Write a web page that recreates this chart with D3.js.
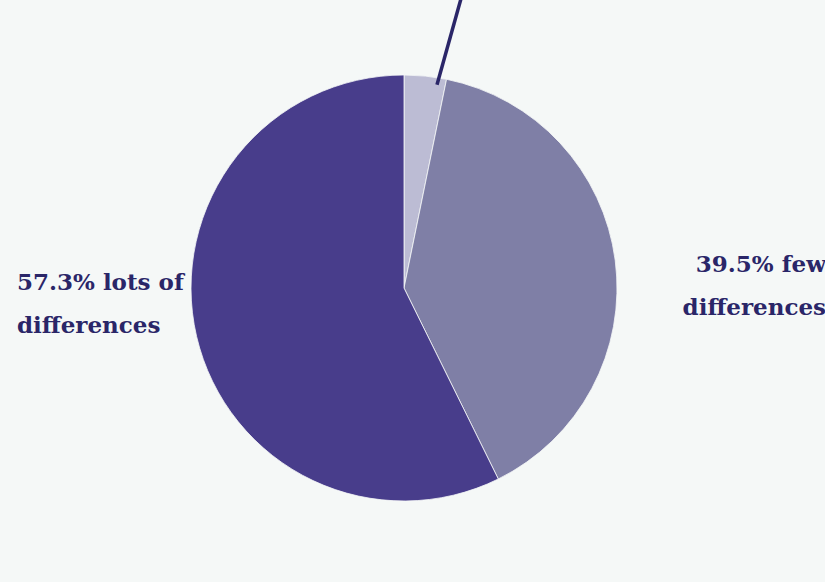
<!DOCTYPE html>
<html>
<head>
<meta charset="utf-8">
<script src="https://cdn.jsdelivr.net/npm/d3@7"></script>
<style>
  html, body { margin: 0; padding: 0; background: #f5f8f7; }
  svg { display: block; }
  .lbl { font-family: "DejaVu Serif", serif; font-weight: bold; font-size: 23px; fill: #2a2668; }
</style>
</head>
<body>
<svg id="chart" width="825" height="582"></svg>
<script>
// slices in clockwise order from 12 o'clock
const categories = ['no differences', 'few differences', 'lots of differences'];
const shares = [3.2, 39.5, 57.3];
const colors = ['#bcbcd4', '#7f7fa6', '#483d8b'];

const width = 825, height = 582;
const cx = 404, cy = 288, radius = 213;

const svg = d3.select('#chart');
const g = svg.append('g').attr('transform', `translate(${cx},${cy})`);

const pie = d3.pie().sort(null).value(d => d.v);
const arcs = pie(shares.map((v, i) => ({ v, c: categories[i], i })));
const arc = d3.arc().innerRadius(0).outerRadius(radius);

g.selectAll('path')
  .data(arcs)
  .enter()
  .append('path')
  .attr('d', arc)
  .attr('fill', d => colors[d.data.i])
  .attr('stroke', '#f5f8f7')
  .attr('stroke-width', 0.8);

// leader line for the small slice, its label sits above the visible area
const small = arcs[0];
const a0 = small.startAngle + 0.8 * (small.endAngle - small.startAngle);
const a1 = a0 + 0.035;
g.append('line')
  .attr('x1', Math.sin(a0) * (radius - 7)).attr('y1', -Math.cos(a0) * (radius - 7))
  .attr('x2', Math.sin(a1) * 300).attr('y2', -Math.cos(a1) * 300)
  .attr('stroke', '#2a2668')
  .attr('stroke-width', 3.5);

// labels
const left = svg.append('text').attr('class', 'lbl').attr('x', 17).attr('y', 290);
left.append('tspan').attr('x', 17).text(`${shares[2]}% lots of`);
left.append('tspan').attr('x', 17).attr('dy', 43).text('differences');

const right = svg.append('text').attr('class', 'lbl').attr('x', 826).attr('y', 272).attr('text-anchor', 'end');
right.append('tspan').attr('x', 826).text(`${shares[1]}% few`);
right.append('tspan').attr('x', 826).attr('dy', 43).text('differences');
</script>
</body>
</html>
